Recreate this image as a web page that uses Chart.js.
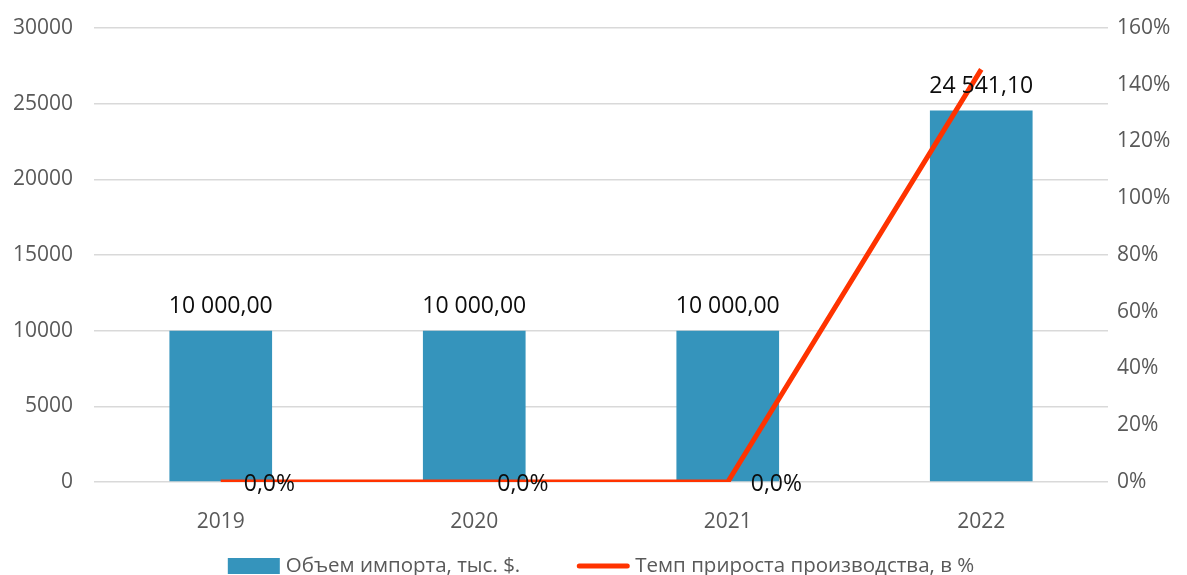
<!DOCTYPE html>
<html>
<head>
<meta charset="utf-8">
<script src="https://cdn.jsdelivr.net/npm/chart.js@4"></script>
<style>
  html, body { margin: 0; padding: 0; background: #fff; overflow: hidden; }
  #wrap { width: 1187px; height: 575px; position: relative; }
</style>
</head>
<body>
<div id="wrap"><canvas id="chart"></canvas></div>
<script>
// DATA
const years = ["2019", "2020", "2021", "2022"];
const importVolume = [10000, 10000, 10000, 24541.10];
const growthRate = [0, 0, 0, 145.41];
const growthLabelShown = [true, true, true, false];
const seriesNames = ["Объем импорта, тыс. $.", "Темп прироста производства, в %"];

const FONT = "'Open Sans', 'Liberation Sans', sans-serif";
const BAR_COLOR = "#3594bc";
const LINE_COLOR = "#ff3300";
const GRID_COLOR = "#d9d9d9";
const TEXT_GREY = "#595959";

function fmtNum(v) {
  const parts = v.toFixed(2).split(".");
  return parts[0].replace(/\B(?=(\d{3})+(?!\d))/g, " ") + "," + parts[1];
}
function fmtPct(v) {
  return v.toFixed(1).replace(".", ",") + "%";
}

// data labels over bars and line points
const valueLabels = {
  id: "valueLabels",
  afterDatasetsDraw(chart) {
    const ctx = chart.ctx;
    ctx.save();
    ctx.font = "23px " + FONT;
    ctx.fillStyle = "#0d0d0d";

    ctx.textAlign = "center";
    ctx.textBaseline = "alphabetic";
    chart.getDatasetMeta(0).data.forEach((bar, i) => {
      ctx.fillText(fmtNum(importVolume[i]), bar.x, bar.y - 18);
    });

    ctx.textAlign = "left";
    ctx.textBaseline = "middle";
    chart.getDatasetMeta(1).data.forEach((pt, i) => {
      if (!growthLabelShown[i]) return;
      ctx.fillText(fmtPct(growthRate[i]), pt.x + 23, pt.y + 2);
    });
    ctx.restore();
  }
};

// legend at the bottom, drawn like Excel's
const bottomLegend = {
  id: "bottomLegend",
  afterDraw(chart) {
    const ctx = chart.ctx;
    const area = chart.chartArea;
    const markW = 52, gap = 6, itemGap = 57, cy = 566;
    ctx.save();
    ctx.font = "20.5px " + FONT;
    const widths = seriesNames.map(t => markW + gap + ctx.measureText(t).width);
    const total = widths[0] + itemGap + widths[1];
    let x = (area.left + area.right) / 2 - total / 2;

    ctx.fillStyle = BAR_COLOR;
    ctx.fillRect(x, cy - 8, markW, 16);
    ctx.fillStyle = TEXT_GREY;
    ctx.textBaseline = "middle";
    ctx.fillText(seriesNames[0], x + markW + gap, cy);
    x += widths[0] + itemGap;

    ctx.strokeStyle = LINE_COLOR;
    ctx.lineWidth = 5;
    ctx.lineCap = "round";
    ctx.beginPath();
    ctx.moveTo(x + 2, cy);
    ctx.lineTo(x + markW - 2, cy);
    ctx.stroke();
    ctx.fillText(seriesNames[1], x + markW + gap, cy);
    ctx.restore();
  }
};

new Chart(document.getElementById("chart"), {
  type: "bar",
  data: {
    labels: years,
    datasets: [
      {
        type: "bar",
        label: seriesNames[0],
        data: importVolume,
        backgroundColor: BAR_COLOR,
        barPercentage: 0.405,
        categoryPercentage: 1,
        yAxisID: "y",
        order: 1
      },
      {
        type: "line",
        label: seriesNames[1],
        data: growthRate,
        borderColor: LINE_COLOR,
        borderWidth: 5,
        pointRadius: 0,
        tension: 0,
        yAxisID: "y1",
        order: 0
      }
    ]
  },
  options: {
    responsive: true,
    maintainAspectRatio: false,
    animation: false,
    layout: { padding: { top: 28, bottom: 33, left: 0, right: 0 } },
    plugins: {
      legend: { display: false },
      tooltip: { enabled: false }
    },
    scales: {
      x: {
        grid: { display: false },
        border: { display: false },
        ticks: { color: TEXT_GREY, font: { family: FONT, size: 21 }, padding: 19 },
        afterFit(s) { s.height = 60; }
      },
      y: {
        position: "left",
        min: 0, max: 30000,
        grid: { color: GRID_COLOR, lineWidth: 1.5, drawTicks: true, tickLength: 21, tickColor: "rgba(0,0,0,0)" },
        border: { display: false },
        ticks: {
          stepSize: 5000, color: TEXT_GREY, font: { family: FONT, size: 21 }, padding: 0,
          callback: v => String(v)
        },
        afterFit(s) { s.width = 94; }
      },
      y1: {
        position: "right",
        min: 0, max: 160,
        grid: { drawOnChartArea: false, drawTicks: true, tickLength: 9, tickColor: "rgba(0,0,0,0)" },
        border: { display: false },
        ticks: {
          stepSize: 20, color: TEXT_GREY, font: { family: FONT, size: 21 }, padding: 0,
          callback: v => v + "%"
        },
        afterFit(s) { s.width = 79; }
      }
    }
  },
  plugins: [valueLabels, bottomLegend]
});
</script>
</body>
</html>
